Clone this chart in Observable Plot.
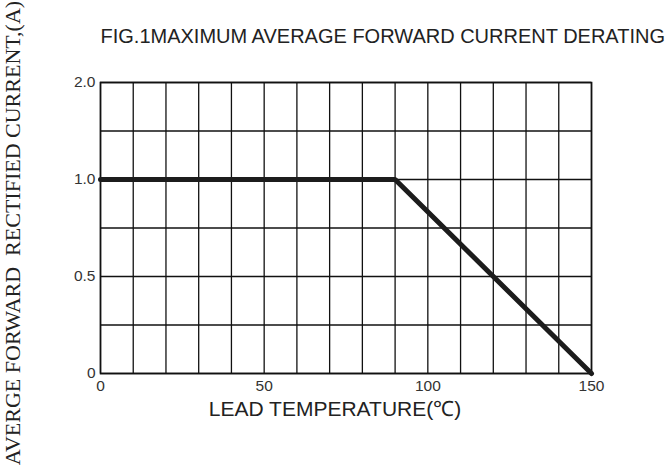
<!DOCTYPE html>
<html>
<head>
<meta charset="utf-8">
<script src="https://cdn.jsdelivr.net/npm/d3@7"></script>
<script src="https://cdn.jsdelivr.net/npm/@observablehq/plot@0.6"></script>
<style>
  html, body { margin: 0; padding: 0; background: #fff; }
  #chart svg { display: block; }
</style>
</head>
<body>
<div id="chart"></div>
<script>
// Data
const temps = [0, 90, 150];            // lead temperature (°C)
const current = [1.0, 1.0, 0];          // rectified current (linear scale units)
const xTicks = [0, 50, 100, 150];
const yTicks = [0, 0.5, 1.0, 1.5];
const yTickLabels = ["0", "0.5", "1.0", "2.0"];
const xGrid = d3.range(0, 151, 10);
const yGrid = d3.range(0, 1.51, 0.25);
const titleText = "FIG.1MAXIMUM AVERAGE FORWARD CURRENT DERATING";
const xLabel = "LEAD TEMPERATURE(\u2103)";
const yLabel = "AVERGE FORWARD  RECTIFIED CURRENT,(A)";

const data = temps.map((t, i) => ({t, c: current[i]}));
const yFmt = d => yTickLabels[yTicks.indexOf(d)];

const chart = Plot.plot({
  width: 665,
  height: 470,
  marginLeft: 100,
  marginRight: 74,
  marginTop: 82,
  marginBottom: 97,
  style: {fontFamily: "Liberation Sans, Arial, sans-serif", fontSize: "15px", background: "#fff"},
  x: {domain: [0, 150], label: null, axis: null},
  y: {domain: [0, 1.5], label: null, axis: null},
  marks: [
    Plot.gridX(xGrid, {stroke: "#111", strokeOpacity: 1, strokeWidth: 1.3}),
    Plot.gridY(yGrid, {stroke: "#111", strokeOpacity: 1, strokeWidth: 1.3}),
    Plot.frame({stroke: "#111", strokeWidth: 1.6}),
    // tick labels
    Plot.text(xTicks, {x: d => d, frameAnchor: "bottom", lineAnchor: "middle", dy: 13,
      textAnchor: "middle", text: d => String(d), fontSize: 15.5, fill: "#333"}),
    Plot.text(yTicks, {y: d => d, frameAnchor: "left", lineAnchor: "middle", dx: -5,
      textAnchor: "end", text: yFmt, fontSize: 15.5, fill: "#333"}),
    Plot.line(data, {x: "t", y: "c", stroke: "#1c1c1c", strokeWidth: 5, strokeLinejoin: "miter"}),
    Plot.text([titleText], {frameAnchor: "top-left", dx: 0, dy: -54, textAnchor: "start",
      fontSize: 20, fill: "#222"}),
    Plot.text([xLabel], {frameAnchor: "bottom", dx: -11, dy: 42, textAnchor: "middle",
      lineAnchor: "bottom", fontSize: 21, fill: "#222"}),
    Plot.text([yLabel], {frameAnchor: "left", rotate: -90, dx: -88, dy: 5, textAnchor: "middle",
      lineAnchor: "middle", fontSize: 22, fontFamily: "Liberation Serif, Times New Roman, serif", fill: "#222"})
  ]
});
document.getElementById("chart").appendChild(chart);
</script>
</body>
</html>
